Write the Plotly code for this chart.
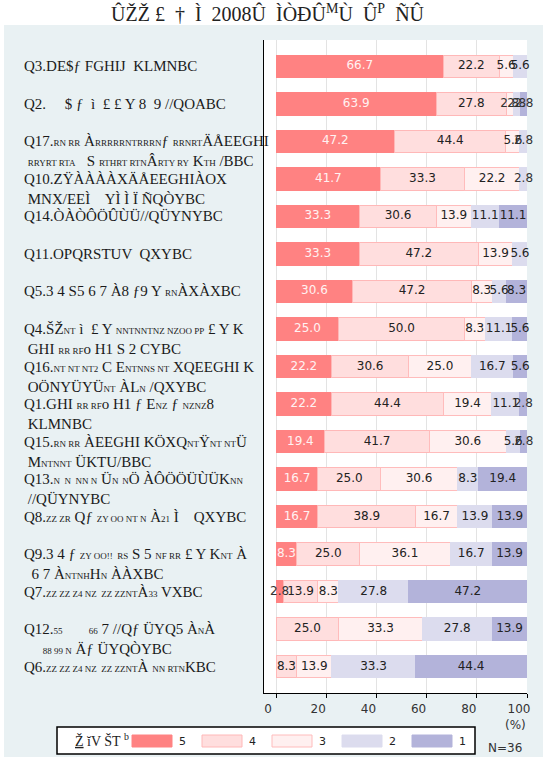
import plotly.graph_objects as go

# ---------------- data ----------------
questions = ["Q3", "Q2", "Q17", "Q10", "Q14", "Q11", "Q5", "Q4", "Q16",
             "Q1", "Q15", "Q13", "Q8", "Q9", "Q7", "Q12", "Q6"]


def s(t):
    return f'<span style="font-size:9px">{t}</span>'


labels = [
    "Q3.DE$ƒ FGHIJ  KLMNBC",
    "Q2.     $ ƒ  ì  £ £ Y 8  9 //QOABC",
    f"Q17.{s('RN RR')} À{s('RRRRRNTRRRN')}ƒ {s('RRNRT')}ÄÅEEGHI<br> {s('RRYRT RTA')}   S {s('RTHRT RTN')}Â{s('RTY RY')} K{s('TH')} /BBC",
    "Q10.ZŸÀÀÀÀXÄÅEEGHIÀOX<br> MNX/ΕΕÌ    YÌ Ì Ï ÑQÒYBC",
    "Q14.ÒÀÒÔÖÛÙÜ//QÜYNYBC",
    "Q11.OPQRSTUV  QXYBC",
    f"Q5.3 4 S5 6 7 À8 ƒ9 Y {s('RN')}ÀXÀXBC",
    f"Q4.ŠŽ{s('NT')} ì  £ Y {s('NNTNNTNZ NZOO PP')} £ Y K<br> GHI {s('RR RF')}o H1 S 2 CYBC",
    f"Q16.{s('NT NT NT2')} C E{s('NTNNS NT')} XQEEGHI K<br> OÖNYÜYÜ{s('NT')} ÀL{s('N')} /QXYBC",
    f"Q1.GHI {s('RR RF')}o H1 ƒ E{s('NZ')} ƒ {s('NZNZ')}8<br> KLMNBC",
    f"Q15.{s('RN RR')} ÀEEGHI KÖXQ{s('NT')}Ÿ{s('NT NT')}Ü<br> M{s('NTNNT')} ÜKTU/BBC",
    f"Q13.{s('N  N  NN N')} Ü{s('N')} {s('N')}Ö ÀÔÖÖÜÙÜK{s('NN')}<br> //QÜYNYBC",
    f"Q8.{s('ZZ ZR')} Qƒ {s('ZY OO NT N')} À{s('21')} Ì    QXYBC",
    f"Q9.3 4 ƒ {s('ZY OO!!  RS')} S 5 {s('NF RR')} £ Y K{s('NT')} À<br>  6 7 À{s('NTNH')}H{s('N')} ÀÀXBC",
    f"Q7.{s('ZZ ZZ Z4 NZ  ZZ ZZNT')}À{s('33')} VXBC",
    f"Q12.{s('55')}       {s('66')} 7 //Qƒ ÜYQ5 À{s('N')}À<br>     {s('88 99 N')} Äƒ ÜYQÒYBC",
    f"Q6.{s('ZZ ZZ Z4 NZ  ZZ ZZNT')}À {s('NN RTN')}KBC",
]
s5 = [66.7, 63.9, 47.2, 41.7, 33.3, 33.3, 30.6, 25.0, 22.2, 22.2, 19.4, 16.7, 16.7, 8.3, 2.8, 0, 0]
s4 = [22.2, 27.8, 44.4, 33.3, 30.6, 47.2, 47.2, 50.0, 30.6, 44.4, 41.7, 25.0, 38.9, 25.0, 13.9, 25.0, 8.3]
s3 = [5.6, 2.8, 5.6, 22.2, 13.9, 13.9, 8.3, 8.3, 25.0, 19.4, 30.6, 30.6, 16.7, 36.1, 8.3, 33.3, 13.9]
s2 = [5.6, 2.8, 2.8, 2.8, 11.1, 5.6, 5.6, 11.1, 16.7, 11.1, 5.6, 8.3, 13.9, 16.7, 27.8, 27.8, 33.3]
s1 = [0, 2.8, 0, 0, 11.1, 0, 8.3, 5.6, 5.6, 2.8, 2.8, 19.4, 13.9, 13.9, 47.2, 13.9, 44.4]
series_names = ["5", "4", "3", "2", "1"]
x_ticks = [0, 20, 40, 60, 80, 100]
title_text = "ÛŽŽ £  †  Ì  2008Û  ÌÒÐÛ<sup>M</sup>Ù  Û<sup>P</sup>  ÑÛ"
legend_title = "<u>Ž</u> ĭV ŠT <sup>b</sup>"
n_note = "N=36"

# ---------------- style ----------------
fills = ["#ff8282", "#ffdede", "#fff0f0", "#dcdcee", "#b3b3da"]
lines = ["#ff8282", "#ffb8b8", "#ffbcbc", "#dcdcee", "#b3b3da"]
txtcol = ["#fff2f2", "#222222", "#222222", "#222222", "#222222"]
W, H = 549, 762
L, R, T, B = 264, 22, 40, 69
PW, PH = W - L - R, H - T - B


def px(x):
    return (x - L) / PW


def py(y):
    return (H - B - y) / PH


fig = go.Figure()
all_series = [s5, s4, s3, s2, s1]
base = [0.0] * len(questions)
text_traces = []
for name, vals, fc, lc, tc in zip(series_names, all_series, fills, lines, txtcol):
    bx, by, xs, ys, ts, cs = [], [], [], [], [], []
    for i, v in enumerate(vals):
        if v > 0:
            bx.append(v)
            by.append(questions[i])
            xs.append(base[i] + v / 2)
            ys.append(questions[i])
            ts.append(f"{v:.1f}")
            cs.append(tc if v >= 5 else "#333333")
        base[i] += v
    fig.add_trace(go.Bar(
        y=by, x=bx, orientation="h", name=name, width=0.6,
        marker=dict(color=fc, line=dict(color=lc, width=1)),
        showlegend=False, hoverinfo="skip",
    ))
    text_traces.append(go.Scatter(
        x=xs, y=ys, text=ts, mode="text", textposition="middle center",
        textfont=dict(family="DejaVu Sans", size=12, color=cs),
        cliponaxis=False, showlegend=False, hoverinfo="skip",
    ))
for tr in text_traces:
    fig.add_trace(tr)

shapes = [
    dict(type="rect", xref="paper", yref="paper", x0=px(4), x1=px(543), y0=py(25), y1=py(757),
         fillcolor="#e9f1f3", line=dict(width=0), layer="below"),
    dict(type="rect", xref="paper", yref="paper", x0=0, x1=1, y0=0, y1=1,
         fillcolor="white", line=dict(width=0), layer="below"),
    dict(type="rect", xref="paper", yref="paper", x0=px(57), x1=px(475), y0=py(727), y1=py(754),
         fillcolor="white", line=dict(color="black", width=1.5)),
]
annotations = []
sw_x = [132, 202, 272, 342, 412]
for name, fc, lc, x0 in zip(series_names, fills, lines, sw_x):
    shapes.append(dict(type="rect", xref="paper", yref="paper", x0=px(x0), x1=px(x0 + 40),
                       y0=py(735), y1=py(747), fillcolor=fc, line=dict(color=lc, width=1)))
    annotations.append(dict(xref="paper", yref="paper", x=px(x0 + 45), y=py(741), text=name,
                            showarrow=False, xanchor="left", yanchor="middle",
                            font=dict(family="DejaVu Sans", size=11, color="#222")))
annotations.append(dict(xref="paper", yref="paper", x=px(73), y=py(740), text=legend_title,
                        showarrow=False, xanchor="left", yanchor="middle",
                        font=dict(family="Liberation Serif", size=14, color="#222")))
annotations.append(dict(xref="paper", yref="paper", x=px(528), y=py(725), text="(%)",
                        showarrow=False, xanchor="right", yanchor="middle",
                        font=dict(family="DejaVu Sans", size=12, color="#333")))
annotations.append(dict(xref="paper", yref="paper", x=px(524), y=py(748), text=n_note,
                        showarrow=False, xanchor="right", yanchor="middle",
                        font=dict(family="DejaVu Sans", size=12, color="#333")))
annotations.append(dict(xref="paper", yref="paper", x=px(268), y=py(13), text=title_text,
                        showarrow=False, xanchor="center", yanchor="middle",
                        font=dict(family="Liberation Serif", size=20, color="#222")))
for q, lab in zip(questions, labels):
    annotations.append(dict(xref="paper", yref="y", x=px(22), y=q, text=lab,
                            showarrow=False, xanchor="left", yanchor="top", yshift=10,
                            align="left",
                            font=dict(family="Liberation Serif", size=15, color="#1a1a1a")))

fig.update_layout(
    width=W, height=H, margin=dict(l=L, r=R, t=T, b=B),
    barmode="stack", bargap=0.4,
    paper_bgcolor="white", plot_bgcolor="white",
    shapes=shapes, annotations=annotations,
    xaxis=dict(range=[-4.8, 100], tickvals=x_ticks, ticktext=[str(t) for t in x_ticks],
               showgrid=True, gridcolor="#e3e3e3", zeroline=False,
               showline=True, linecolor="black", linewidth=1.2,
               ticks="outside", ticklen=4, tickcolor="black", ticklabelshift=-8,
               tickfont=dict(family="DejaVu Sans", size=12, color="#333")),
    yaxis=dict(type="category", categoryarray=questions, range=[16.7, -0.7],
               showticklabels=False, showgrid=False, zeroline=False,
               showline=True, linecolor="black", linewidth=1.2, ticks=""),
)

fig.write_html("out.html")
